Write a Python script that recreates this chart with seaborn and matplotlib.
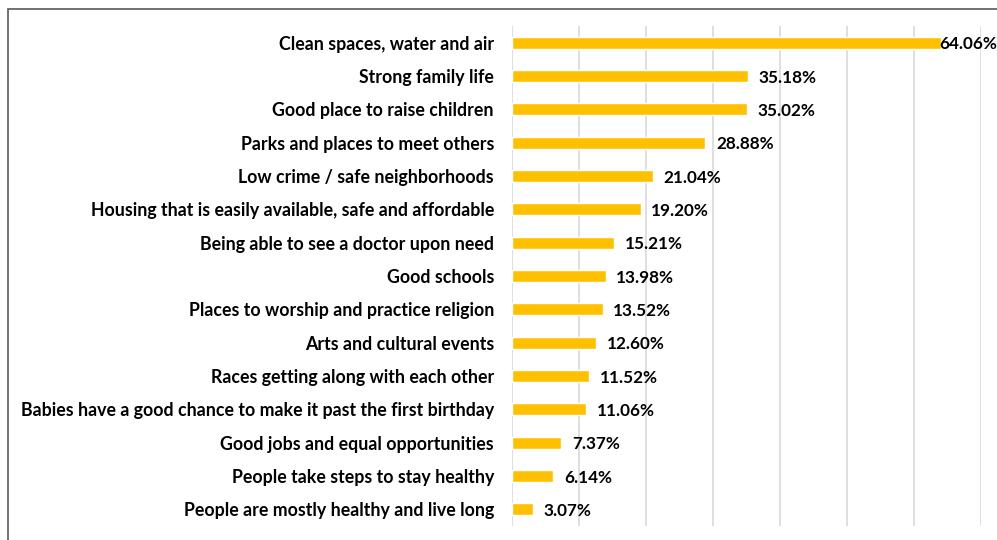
import matplotlib
matplotlib.use("Agg")
import matplotlib.pyplot as plt
import matplotlib.patches as mpatches
import pandas as pd
import seaborn as sns

categories = [
    "Clean spaces, water and air",
    "Strong family life",
    "Good place to raise children",
    "Parks and places to meet others",
    "Low crime / safe neighborhoods",
    "Housing that is easily available, safe and affordable",
    "Being able to see a doctor upon need",
    "Good schools",
    "Places to worship and practice religion",
    "Arts and cultural events",
    "Races getting along with each other",
    "Babies have a good chance to make it past the first birthday",
    "Good jobs and equal opportunities",
    "People take steps to stay healthy",
    "People are mostly healthy and live long",
]
values = [64.06, 35.18, 35.02, 28.88, 21.04, 19.20, 15.21, 13.98,
          13.52, 12.60, 11.52, 11.06, 7.37, 6.14, 3.07]

df = pd.DataFrame({"category": categories, "value": values})

sns.set_style("white")
plt.rcParams['font.family'] = ['Lato', 'DejaVu Sans']

fig = plt.figure(figsize=(9.97, 5.40), dpi=100)
ax = fig.add_axes([512 / 997, 14 / 540, (981 - 512) / 997, 500 / 540])

sns.barplot(data=df, x="value", y="category", orient="h", color="#FFC000",
            width=0.36, ax=ax, saturation=1)

ax.set_xlim(0, 70)
ax.set_ylim(14.5, -0.5)
ax.set_xticks(range(0, 71, 10))
ax.set_xticklabels([])
ax.grid(axis="x", color="#D9D9D9", linewidth=1.2)
ax.set_axisbelow(True)
for s in ax.spines.values():
    s.set_visible(False)
ax.tick_params(axis="both", length=0)
ax.tick_params(axis="y", pad=13)
for lbl in ax.get_yticklabels():
    lbl.set_fontweight("bold")
    lbl.set_fontsize(12.8)
    lbl.set_color("#000000")
ax.set_xlabel("")
ax.set_ylabel("")

for i, v in enumerate(values):
    x = v - 0.3 if v > 60 else v + 1.6
    ax.text(x, i + 0.05, f"{v:.2f}%", va="center", ha="left", fontsize=12.3,
            fontweight="bold", color="#000000")

fig.patches.append(mpatches.Rectangle((8 / 997, -0.1), 1.2, 1 - 9 / 540 + 0.1,
                                      transform=fig.transFigure, fill=False,
                                      edgecolor="#595959", linewidth=1.2))

fig.savefig("out.png", dpi=100)
